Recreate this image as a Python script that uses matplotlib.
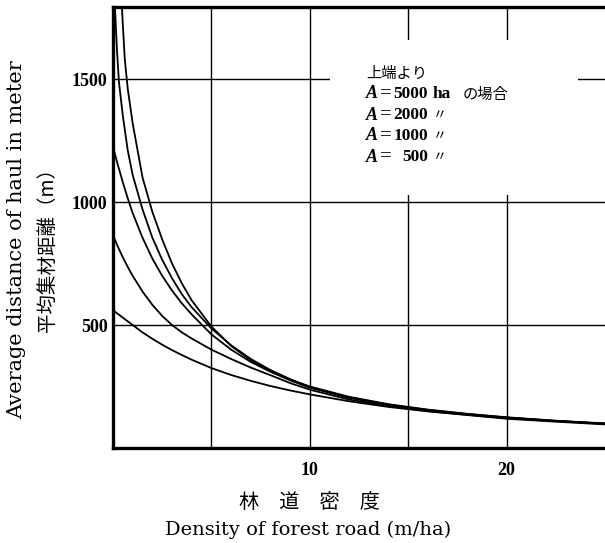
import matplotlib
matplotlib.use("Agg")
import matplotlib.pyplot as plt
from matplotlib.patches import Rectangle

plt.rcParams['font.family'] = ['Liberation Serif', 'Noto Sans CJK JP']

# 林道密度 (m/ha) と平均集材距離 (m) -- 図から読み取った値
density = [0, 0.25, 0.5, 0.75, 1, 1.5, 2, 2.5, 3, 3.5, 4, 5, 6, 7, 8, 9, 10,
           12, 14, 16, 18, 20, 22.5, 25]

# 最上端の曲線 (左端で上に抜ける)
density_top = [0.4, 0.5, 0.6, 0.75, 1, 1.5, 2, 2.5, 3, 3.5, 4, 5, 6, 7, 8, 9, 10,
               12, 14, 16, 18, 20, 22.5, 25]
dist_top = [1880, 1720, 1580, 1460, 1320, 1100, 960, 848, 750, 669, 600, 494, 415,
            357, 313, 278, 250, 208, 178, 156, 139, 125, 111, 100]

# A = 5000 ha
density_5000 = [0.05, 0.1, 0.2, 0.3, 0.5, 0.75, 1, 1.5, 2, 2.5, 3, 3.5, 4, 5, 6, 7, 8,
                9, 10, 12, 14, 16, 18, 20, 22.5, 25]
dist_5000 = [1900, 1790, 1620, 1490, 1350, 1210, 1110, 970, 855, 765, 690, 625, 572,
             486, 418, 362, 317, 280, 248, 206, 176, 155, 138, 124, 110, 99]

# A = 2000 ha, 1000 ha, 500 ha
dist_2000 = [1224, 1150, 1080, 1015, 955, 855, 770, 700, 640, 588, 543, 462, 400,
             350, 310, 275, 245, 204, 175, 154, 137, 123, 110, 99]
dist_1000 = [865, 818, 775, 736, 700, 636, 582, 537, 500, 470, 445, 400, 362,
             327, 296, 264, 237, 197, 170, 150, 135, 121, 109, 98]
dist_500 = [560, 545, 530, 515, 500, 470, 444, 420, 398, 378, 359, 325, 297,
            273, 252, 234, 218, 190, 167, 149, 134, 119, 107, 96]

x_ticks = [5, 10, 15, 20]
x_ticklabels = ['', '10', '', '20']
y_ticks = [500, 1000, 1500]

W, H = 605, 543
fig = plt.figure(figsize=(W / 100, H / 100), dpi=100)
ax = fig.add_axes([113 / W, 95 / H, (W - 113) / W, 441 / H])

ax.plot(density_top, dist_top, color='black', lw=1.3, zorder=3)
ax.plot(density_5000, dist_5000, color='black', lw=1.3, zorder=3)
ax.plot(density, dist_2000, color='black', lw=1.3, zorder=3)
ax.plot(density, dist_1000, color='black', lw=1.3, zorder=3)
ax.plot(density, dist_500, color='black', lw=1.3, zorder=3)

ax.set_xlim(0, 25)
ax.set_ylim(0, 1793)
ax.set_xticks(x_ticks)
ax.set_xticklabels(x_ticklabels)
ax.set_yticks(y_ticks)
ax.tick_params(length=0, labelsize=13)
ax.tick_params(axis='x', pad=10)
ax.tick_params(axis='y', pad=4)
for lab in ax.get_xticklabels() + ax.get_yticklabels():
    lab.set_fontweight('bold')

ax.set_axisbelow(True)
ax.grid(True, color='black', lw=1.0)
for side in ['left', 'top', 'bottom']:
    ax.spines[side].set_linewidth(2.4)
ax.spines['right'].set_visible(False)

# 注記の部分は格子線を消す
ax.add_patch(Rectangle((0.441, 0.574), 0.504, 0.351, transform=ax.transAxes,
                       facecolor='white', edgecolor='none', zorder=1))

# 軸ラベル
fig.text(17 / W, 1 - 240 / H, 'Average distance of haul in meter', rotation=90,
         ha='center', va='center', fontsize=15, family=['DejaVu Serif'])
fig.text(47 / W, 1 - 245 / H, '平均集材距離（m）', rotation=90,
         ha='center', va='center', fontsize=14, family=['Noto Sans CJK JP'])
fig.text(309 / W, 1 - 503 / H, '林　道　密　度', ha='center', va='center',
         fontsize=14.5, family=['Noto Sans CJK JP'])
fig.text(308 / W, 1 - 530 / H, 'Density of forest road (m/ha)', ha='center',
         va='center', fontsize=14, family=['DejaVu Serif'])

# 注記
fig.text(366 / W, 1 - 73 / H, '上端より', ha='left', va='center', fontsize=11,
         family=['Noto Sans CJK JP'])
areas = ['5000', '2000', '1000', '500']
rows_y = [94, 115, 136, 157]
for a, yy in zip(areas, rows_y):
    fy = 1 - yy / H
    fig.text(366 / W, fy, 'A', ha='left', va='center', fontsize=13,
             style='italic', fontweight='bold')
    fig.text(386 / W, fy, '=', ha='center', va='center', fontsize=15)
    fig.text(428 / W, fy, a, ha='right', va='center', fontsize=12.5, fontweight='bold')
    if a == '5000':
        fig.text(433 / W, fy, 'ha', ha='left', va='center', fontsize=12.5,
                 fontweight='bold')
        fig.text(463 / W, fy, 'の場合', ha='left', va='center', fontsize=11,
                 family=['Noto Sans CJK JP'])
    else:
        fig.text(433 / W, fy, '〃', ha='left', va='center', fontsize=10,
                 family=['Noto Sans CJK JP'])

fig.savefig('out.png', dpi=100)
